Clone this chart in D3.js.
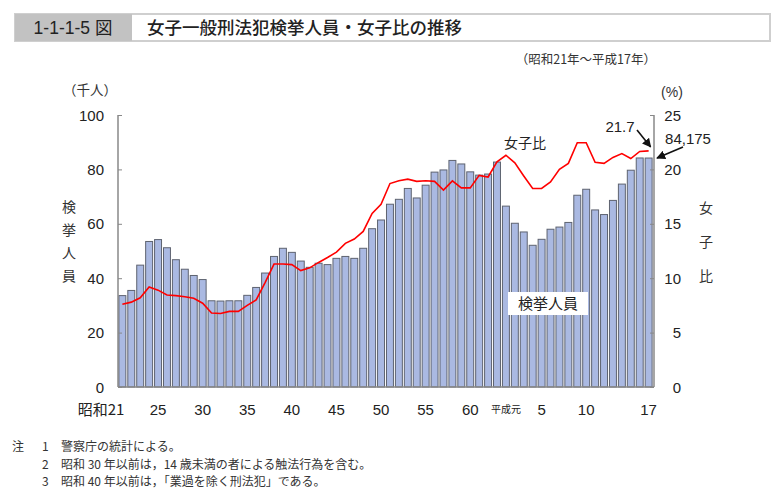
<!DOCTYPE html>
<html><head><meta charset="utf-8">
<script src="https://cdn.jsdelivr.net/npm/d3@7"></script>
<style>
body{margin:0;background:#fff;}
text{font-family:"Liberation Sans",Arial,"Noto Sans CJK JP",sans-serif;}
.jp{font-family:"Noto Sans CJK JP",sans-serif;}
</style></head>
<body>
<svg id="c" width="774" height="500"></svg>
<script>
// 昭和21年～平成17年 (60 years)
const years = d3.range(60);
const arrestees = [33.6,35.5,44.8,53.5,54.2,51.2,46.8,43.3,41.0,39.5,
  31.7,31.6,31.7,31.7,33.7,36.6,41.9,48.0,51.0,49.5,
  46.3,44.0,45.5,45.0,47.3,48.0,47.3,51.0,58.2,61.4,
  67.2,69.0,73.0,69.5,74.2,79.0,79.8,83.3,82.0,79.1,
  77.9,78.3,82.7,66.5,60.2,57.0,52.1,54.3,58.0,58.8,
  60.5,70.5,72.7,65.1,63.4,68.6,74.6,79.7,84.2,84.175];
const femaleRatio = [7.6,7.8,8.2,9.2,8.9,8.45,8.4,8.3,8.15,7.7,
  6.8,6.75,6.95,6.95,7.5,8.0,9.6,11.3,11.3,11.25,
  10.7,10.95,11.45,11.9,12.4,13.2,13.6,14.3,15.95,16.8,
  18.7,18.95,19.1,18.9,18.95,18.9,18.1,18.95,18.3,18.3,
  19.45,19.3,20.7,21.3,20.6,19.4,18.25,18.25,18.85,20.0,
  20.55,22.45,22.45,20.65,20.55,21.1,21.45,21.0,21.65,21.7];
const xTickIdx = [0,4,9,14,19,24,29,34,39,43,47,52,59];
const xTickLabels = ["昭和21","25","30","35","40","45","50","55","60","平成元","5","10","17"];
const leftTicks = [0,20,40,60,80,100];
const rightTicks = [0,5,10,15,20,25];
const footnotes = [
  ["注","1","警察庁の統計による。"],
  ["","2","昭和 30 年以前は，14 歳未満の者による触法行為を含む。"],
  ["","3","昭和 40 年以前は，「業過を除く刑法犯」である。"]
];

const svg = d3.select("#c");
const L=118, R=654, T=115, B=387;
const x = d3.scaleBand().domain(years).range([L,R-1]).paddingInner(0.22).paddingOuter(0.1);
const yL = d3.scaleLinear().domain([0,100]).range([B,T]);
const yR = d3.scaleLinear().domain([0,25]).range([B,T]);

// title bar
svg.append("rect").attr("x",15).attr("y",14).attr("width",755).attr("height",27)
  .attr("fill","#fff").attr("stroke","#cfcfcf").attr("stroke-width",2);
svg.append("rect").attr("x",15).attr("y",14).attr("width",117).attr("height",27).attr("fill","#c2c2c2");
svg.append("text").attr("x",73).attr("y",34).attr("text-anchor","middle")
  .attr("font-size",17.5).attr("fill","#222").text("1-1-1-5 図");
svg.append("text").attr("class","jp").attr("x",147).attr("y",34)
  .attr("font-size",17.5).attr("font-weight",500).attr("fill","#222").text("女子一般刑法犯検挙人員・女子比の推移");
svg.append("text").attr("class","jp").attr("x",656).attr("y",64).attr("text-anchor","end")
  .attr("font-size",12.5).attr("fill","#333").text("（昭和21年～平成17年）");

// units
svg.append("text").attr("class","jp").attr("x",90).attr("y",95).attr("text-anchor","middle")
  .attr("font-size",13.5).attr("fill","#333").text("（千人）");
svg.append("text").attr("x",672).attr("y",97).attr("text-anchor","middle")
  .attr("font-size",14).attr("fill","#333").text("(%)");

// bars
svg.append("g").selectAll("rect").data(arrestees).join("rect")
  .attr("x",(d,i)=>x(i)).attr("width",x.bandwidth())
  .attr("y",d=>yL(d)).attr("height",d=>B-yL(d))
  .attr("fill","#aab9e2").attr("stroke","#5e6370").attr("stroke-width",1);

// axes
const axCol="#888";
const gl = svg.append("g").attr("transform",`translate(${L},0)`)
  .call(d3.axisRight(yL).tickValues(leftTicks).tickSize(4).tickFormat(""));
gl.select(".domain").attr("stroke",axCol).attr("stroke-width",1.5).attr("d",`M0,${T}V${B}`);
gl.selectAll(".tick line").attr("stroke",axCol);
svg.append("g").selectAll("text").data(leftTicks).join("text")
  .attr("x",104).attr("y",d=>yL(d)+5.5).attr("text-anchor","end")
  .attr("font-size",15).attr("fill","#222").text(d=>d);

const gr = svg.append("g").attr("transform",`translate(${R},0)`)
  .call(d3.axisLeft(yR).tickValues(rightTicks).tickSize(4).tickFormat(""));
gr.select(".domain").attr("stroke",axCol).attr("stroke-width",1.5).attr("d",`M0,${T}V${B}`);
gr.selectAll(".tick line").attr("stroke",axCol);
svg.append("g").selectAll("text").data(rightTicks).join("text")
  .attr("x",681).attr("y",d=>yR(d)+5.5).attr("text-anchor","end")
  .attr("font-size",15).attr("fill","#222").text(d=>d);

svg.append("line").attr("x1",L).attr("x2",R).attr("y1",B).attr("y2",B)
  .attr("stroke",axCol).attr("stroke-width",1.5);

// x labels
svg.append("g").selectAll("text").data(xTickIdx).join("text")
  .attr("class",(d,i)=>(i===0||i===9)?"jp":null)
  .attr("x",(d,i)=>{const c=x(d)+x.bandwidth()/2; return i===0? c+2 : c;})
  .attr("y",(d,i)=>i===9?413:415)
  .attr("text-anchor",(d,i)=>i===0?"end":"middle")
  .attr("font-size",(d,i)=>i===9?10:15)
  .attr("fill","#222")
  .text((d,i)=>xTickLabels[i]);

// ratio line
svg.append("path").datum(femaleRatio)
  .attr("d",d3.line().x((d,i)=>x(i)+x.bandwidth()/2).y(d=>yR(d)))
  .attr("fill","none").attr("stroke","#ff0000").attr("stroke-width",1.6);

// axis titles (vertical)
svg.append("g").selectAll("text").data(["検","挙","人","員"]).join("text")
  .attr("class","jp").attr("x",69).attr("y",(d,i)=>212+i*23).attr("text-anchor","middle")
  .attr("font-size",14).attr("fill","#333").text(d=>d);
svg.append("g").selectAll("text").data(["女","子","比"]).join("text")
  .attr("class","jp").attr("x",706).attr("y",(d,i)=>213+i*34).attr("text-anchor","middle")
  .attr("font-size",14).attr("fill","#333").text(d=>d);

// in-chart labels
svg.append("text").attr("class","jp").attr("x",525).attr("y",148).attr("text-anchor","middle")
  .attr("font-size",14).attr("fill","#222").text("女子比");
svg.append("rect").attr("x",508).attr("y",292).attr("width",80).attr("height",23).attr("fill","#fff");
svg.append("text").attr("class","jp").attr("x",548).attr("y",308.5).attr("text-anchor","middle")
  .attr("font-size",15).attr("fill","#222").text("検挙人員");

// annotations
const defs = svg.append("defs");
defs.append("marker").attr("id","ah").attr("viewBox","0 0 10 10").attr("refX",9).attr("refY",5)
  .attr("markerWidth",9).attr("markerHeight",9).attr("orient","auto").attr("markerUnits","userSpaceOnUse")
  .append("path").attr("d","M0,0L10,5L0,10z").attr("fill","#111");
const lastI = years.length-1;
const lx = x(lastI)+x.bandwidth()/2;
svg.append("text").attr("x",620).attr("y",132).attr("text-anchor","middle")
  .attr("font-size",15).attr("fill","#222").text(femaleRatio[lastI].toFixed(1));
svg.append("line").attr("x1",637).attr("y1",130).attr("x2",lx+2).attr("y2",yR(femaleRatio[lastI])-4)
  .attr("stroke","#111").attr("stroke-width",1.6).attr("marker-end","url(#ah)");
svg.append("text").attr("x",688).attr("y",144).attr("text-anchor","middle")
  .attr("font-size",15).attr("fill","#222").text(d3.format(",")(Math.round(arrestees[lastI]*1000)));
svg.append("line").attr("x1",683).attr("y1",147).attr("x2",657).attr("y2",yL(arrestees[lastI]))
  .attr("stroke","#111").attr("stroke-width",1.6).attr("marker-end","url(#ah)");

// footnotes
const fn = svg.append("g").attr("fill","#333");
footnotes.forEach((r,i)=>{
  const yy = 451+i*17.5;
  fn.append("text").attr("class","jp").attr("font-size",12).attr("x",12).attr("y",yy).text(r[0]);
  fn.append("text").attr("class","jp").attr("font-size",12).attr("x",42).attr("y",yy).text(r[1]);
  fn.append("text").attr("class","jp").attr("font-size",12).attr("x",61).attr("y",yy).text(r[2]);
});
</script>
</body></html>
